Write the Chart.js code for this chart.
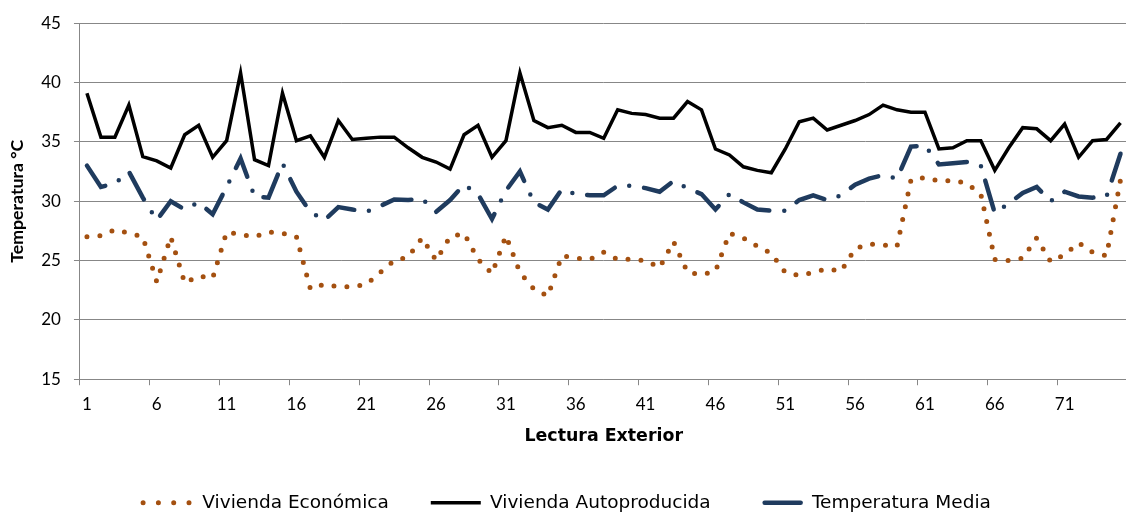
<!DOCTYPE html>
<html>
<head>
<meta charset="utf-8">
<script src="https://cdn.jsdelivr.net/npm/chart.js@4.4.1/dist/chart.umd.min.js"></script>
<style>
  html, body { margin: 0; padding: 0; background: #fff; overflow: hidden; }
  #wrap { width: 1130px; height: 522px; }
</style>
</head>
<body>
<div id="wrap"><canvas id="chart" width="1130" height="522"></canvas></div>
<script>
// categories: lectura exterior 1..75
const lecturas = [
  "1","2","3","4","5","6","7","8","9","10","11","12","13","14","15",
  "16","17","18","19","20","21","22","23","24","25","26","27","28","29","30",
  "31","32","33","34","35","36","37","38","39","40","41","42","43","44","45",
  "46","47","48","49","50","51","52","53","54","55","56","57","58","59","60",
  "61","62","63","64","65","66","67","68","69","70","71","72","73","74","75"
];
const xTickLabels = ["1","6","11","16","21","26","31","36","41","46","51","56","61","66","71"];
const yTicks = [15, 20, 25, 30, 35, 40, 45];

// Vivienda Económica (dotted)
const economica = [
  27.0, 27.1, 27.6, 27.3, 27.0, 23.2, 27.0, 23.1, 23.7, 23.5,
  27.4, 27.2, 27.0, 27.4, 27.3, 27.0, 22.6, 23.0, 22.8, 22.8,
  23.0, 24.0, 25.0, 25.3, 26.9, 25.0, 27.0, 27.3, 25.1, 23.9,
  27.1, 24.0, 22.6, 22.0, 25.4, 25.2, 25.1, 25.7, 25.1, 25.1,
  25.0, 24.4, 26.6, 24.0, 23.8, 24.1, 27.3, 26.9, 26.2, 25.6,
  24.0, 23.75, 24.0, 24.3, 24.1, 26.0, 26.4, 26.3, 26.2, 31.8,
  32.0, 31.7, 31.75, 31.5, 30.6, 25.1, 25.0, 25.2, 26.9, 24.9,
  25.5, 26.5, 25.7, 25.4, 31.8
];

// Vivienda Autoproducida (solid)
const autoproducida = [
  39.1, 35.4, 35.4, 38.1, 33.75, 33.4, 32.8, 35.6, 36.4, 33.7,
  35.1, 40.8, 33.5, 33.0, 39.1, 35.1, 35.5, 33.7, 36.8, 35.2,
  35.3, 35.4, 35.4, 34.5, 33.7, 33.3, 32.7, 35.6, 36.4, 33.7,
  35.1, 40.8, 36.8, 36.2, 36.4, 35.8, 35.8, 35.3, 37.7, 37.4,
  37.3, 37.0, 37.0, 38.4, 37.7, 34.4, 33.9, 32.9, 32.6, 32.4,
  34.4, 36.7, 37.0, 36.0, 36.4, 36.8, 37.3, 38.1, 37.7, 37.5,
  37.5, 34.4, 34.5, 35.1, 35.1, 32.6, 34.5, 36.2, 36.1, 35.1,
  36.5, 33.7, 35.1, 35.2, 36.6
];

// Temperatura Media (long dash dot)
const media = [
  33.0, 31.2, 31.5, 32.5, 30.3, 28.4, 30.0, 29.3, 29.9, 28.9,
  31.2, 33.6, 30.4, 30.3, 33.2, 30.8, 29.1, 28.4, 29.5, 29.3,
  29.1, 29.6, 30.15, 30.1, 30.2, 29.1, 30.1, 31.4, 30.6, 28.5,
  30.9, 32.5, 29.9, 29.3, 31.0, 30.6, 30.5, 30.5, 31.3, 31.3,
  31.1, 30.8, 31.7, 31.1, 30.6, 29.3, 30.6, 29.9, 29.3, 29.2,
  29.2, 30.1, 30.5, 30.1, 30.5, 31.4, 31.9, 32.2, 31.9, 34.6,
  34.7, 33.1, 33.2, 33.3, 33.0, 29.0, 29.8, 30.7, 31.2, 30.0,
  30.8, 30.4, 30.3, 30.4, 34.0
];

const gridColor = "#878787";
const latoFam = "Lato, 'Open Sans', sans-serif";
const wideFam = "'DejaVu Sans', Verdana, sans-serif";

const series = [
  { label: "Vivienda Económica", data: economica, color: "#a45010", width: 5, dash: [0, 13], legendDash: [0, 15.3], legendOffset: 0, cap: "round" },
  { label: "Vivienda Autoproducida", data: autoproducida, color: "#000000", width: 3.5, dash: [], legendDash: [], legendOffset: 0, cap: "butt" },
  { label: "Temperatura Media", data: media, color: "#1f3b5e", width: 4.5, dash: [30, 15, 0, 15], legendDash: [36, 100], legendOffset: -12, cap: "round" }
];

const ctx = document.getElementById("chart");

new Chart(ctx, {
  type: "line",
  data: {
    labels: lecturas,
    datasets: series.map(s => ({
      label: s.label,
      data: s.data,
      borderColor: s.color,
      backgroundColor: s.color,
      borderWidth: s.width,
      borderDash: s.dash,
      borderCapStyle: s.cap,
      borderJoinStyle: "miter",
      pointRadius: 0,
      pointHoverRadius: 0,
      tension: 0,
      fill: false
    }))
  },
  options: {
    responsive: false,
    animation: false,
    events: [],
    layout: { padding: { left: 5, right: 1, top: 6, bottom: 0 } },
    plugins: {
      tooltip: { enabled: false },
      legend: {
        position: "bottom",
        labels: {
          usePointStyle: true,
          pointStyleWidth: 50,
          boxHeight: 18,
          padding: 42,
          color: "#000",
          font: { family: wideFam, size: 18.5 },
          generateLabels: () => series.map((s, i) => ({
            text: s.label,
            datasetIndex: i,
            strokeStyle: s.color,
            fillStyle: s.color,
            lineWidth: s.width,
            lineDash: s.legendDash,
            lineDashOffset: s.legendOffset,
            lineCap: s.cap,
            pointStyle: "line",
            fontColor: "#000",
            hidden: false
          }))
        }
      }
    },
    scales: {
      x: {
        offset: true,
        grid: {
          offset: true,
          drawOnChartArea: false,
          tickLength: 6,
          tickColor: c => (c.index % 5 === 0 ? gridColor : "rgba(0,0,0,0)")
        },
        border: { display: true, color: gridColor, width: 1 },
        ticks: {
          autoSkip: false,
          maxRotation: 0,
          padding: 9.5,
          color: "#000",
          font: { family: latoFam, size: 17 },
          callback: (v, i) => (xTickLabels.includes(lecturas[i]) ? lecturas[i] : "")
        },
        title: {
          display: true,
          text: "Lectura Exterior",
          color: "#000",
          font: { family: wideFam, size: 17.4, weight: "bold" },
          padding: { top: 1, bottom: 5 }
        }
      },
      y: {
        min: 15,
        max: 45,
        afterBuildTicks: axis => { axis.ticks = yTicks.map(v => ({ value: v })); },
        grid: { color: gridColor, tickLength: 6, lineWidth: 1 },
        border: { display: true, color: gridColor, width: 1 },
        ticks: {
          padding: 13,
          color: "#000",
          font: { family: latoFam, size: 17 }
        },
        title: {
          display: true,
          text: "Temperatura °C",
          color: "#000",
          font: { family: latoFam, size: 17.7, weight: "bold" },
          padding: { top: 2, bottom: 0 }
        }
      }
    }
  }
});
</script>
</body>
</html>
